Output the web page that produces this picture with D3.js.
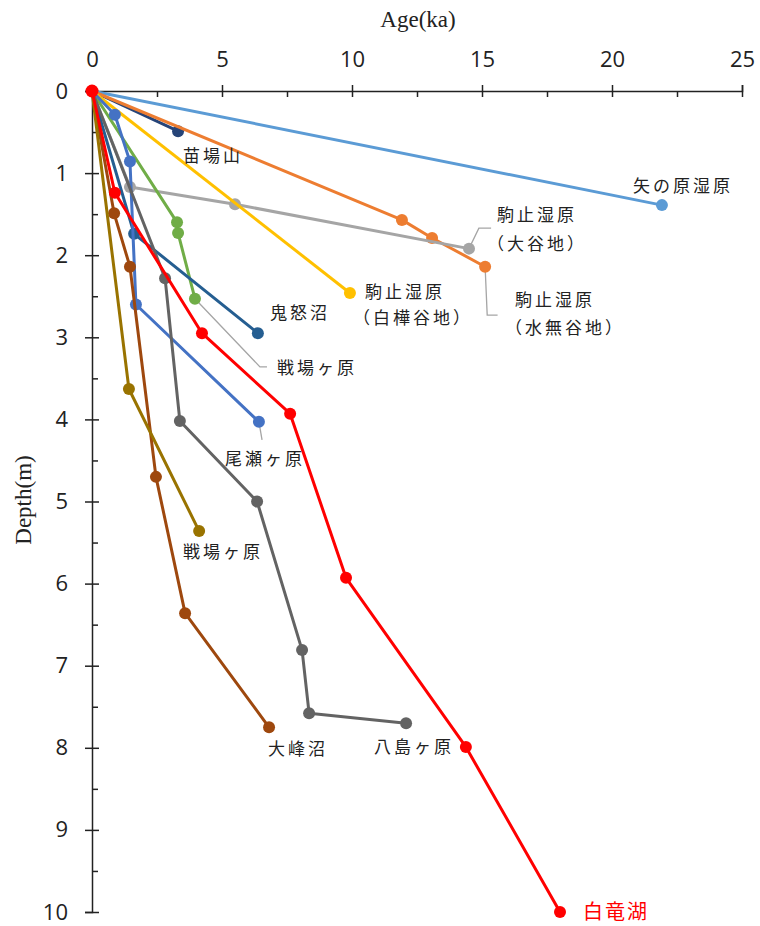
<!DOCTYPE html>
<html>
<head>
<meta charset="utf-8">
<script src="https://cdn.jsdelivr.net/npm/d3@7"></script>
<style>
body{margin:0;background:#fff;}
</style>
</head>
<body>
<script>
var w=760;
var h=926;

// age (ka) / depth (m) pairs per site
var yanohara   = [[0,0],[21.92,1.39]];
var naebasan   = [[0,0],[3.31,0.49]];
var mizunashi  = [[0,0],[11.92,1.57],[13.08,1.79],[15.12,2.14]];
var ooyachi    = [[0,0],[1.46,1.17],[5.5,1.38],[14.5,1.92]];
var shirakaba  = [[0,0],[9.92,2.46]];
var senjo1     = [[0,0],[3.27,1.6],[3.31,1.73],[3.96,2.53]];
var kinunuma   = [[0,0],[1.62,1.74],[6.38,2.95]];
var oze        = [[0,0],[0.88,0.29],[1.46,0.86],[1.69,2.6],[6.42,4.03]];
var yashima    = [[0,0],[2.81,2.28],[3.38,4.02],[6.35,5.0],[8.08,6.81],[8.35,7.58],[12.08,7.7]];
var oominenuma = [[0,0],[0.85,1.49],[1.46,2.14],[2.46,4.7],[3.58,6.36],[6.81,7.75]];
var senjo2     = [[0,0],[1.42,3.63],[4.12,5.36]];
var hakuryu    = [[0,0],[0.88,1.24],[4.23,2.95],[7.62,3.93],[9.77,5.93],[14.38,7.99],[18.0,10.0]];

var xTicks=[0,5,10,15,20,25];
var yTicks=[0,1,2,3,4,5,6,7,8,9,10];

var series=[yanohara,naebasan,mizunashi,ooyachi,shirakaba,senjo1,kinunuma,oze,yashima,oominenuma,senjo2,hakuryu];
var colors=["#5B9BD5","#264478","#ED7D31","#A5A5A5","#FFC000","#70AD47","#255E91","#4472C4","#636363","#9E480E","#997300","#FF0000"];

var svg=d3.select("body").append("svg")
	.attr("width",w)
	.attr("height",h)
	.style("font-family","'Open Sans', sans-serif");

var x=d3.scaleLinear().domain([0,25]).range([92,742]);
var y=d3.scaleLinear().domain([0,10]).range([91,912]);

// top axis
var xAxis=svg.append("g").attr("transform","translate(0,"+y(0)+")")
	.call(d3.axisTop(x).tickValues(xTicks).tickSize(6).tickPadding(18));
xAxis.selectAll(".tick line").attr("y2",-6).attr("y1",6);
svg.append("g").attr("transform","translate(0,"+y(0)+")")
	.call(d3.axisTop(x).tickValues([2.5,7.5,12.5,17.5,22.5]).tickSize(-6).tickFormat(""))
	.select(".domain").remove();

// left axis
var yAxis=svg.append("g").attr("transform","translate("+x(0)+",0)")
	.call(d3.axisLeft(y).tickValues(yTicks).tickSize(7).tickPadding(17));
yAxis.selectAll(".tick line").attr("x1",7);
svg.append("g").attr("transform","translate("+x(0)+",0)")
	.call(d3.axisLeft(y).tickValues(d3.range(0.5,10,1)).tickSize(-6).tickFormat(""))
	.select(".domain").remove();

svg.selectAll(".domain").attr("stroke","#222").attr("stroke-width",1.5);
svg.selectAll(".tick line").attr("stroke","#222").attr("stroke-width",1.5);
svg.selectAll(".tick text").attr("font-size",22).attr("fill","#222")
	.style("font-family","'Open Sans', sans-serif");

svg.append("text").attr("x",418).attr("y",27).attr("text-anchor","middle")
	.style("font-family","'Liberation Serif', serif").attr("font-size",23).attr("fill","#222")
	.text("Age(ka)");
svg.append("text").attr("transform","translate(31,500) rotate(-90)").attr("text-anchor","middle")
	.style("font-family","'Liberation Serif', serif").attr("font-size",23).attr("fill","#222")
	.text("Depth(m)");

// leader lines
var leaders=[
	[[14.5,1.92],[14.88,1.67],[15.35,1.67]],
	[[15.12,2.14],[15.2,2.73],[15.6,2.73]],
	[[3.96,2.53],[6.46,3.36],[6.73,3.36]],
	[[6.42,4.03],[6.54,4.25]]
];
var line=d3.line().x(function(d){return x(d[0]);}).y(function(d){return y(d[1]);});
svg.append("g").selectAll("path").data(leaders).enter().append("path")
	.attr("d",line).attr("fill","none").attr("stroke","#A5A5A5").attr("stroke-width",1.3);

// series
var g=svg.append("g");
series.forEach(function(s,i){
	g.append("path").attr("d",line(s)).attr("fill","none")
		.attr("stroke",colors[i]).attr("stroke-width",3).attr("stroke-linejoin","round");
	g.selectAll(null).data(s.slice(1)).enter().append("circle")
		.attr("cx",function(d){return x(d[0]);})
		.attr("cy",function(d){return y(d[1]);})
		.attr("r",6).attr("fill",colors[i]);
});
g.append("circle").attr("cx",x(0)).attr("cy",y(0)).attr("r",6.5).attr("fill","#FF0000");

// labels
var labels=[
	["苗場山",183,162],
	["矢の原湿原",633,192],
	["駒止湿原",497,221],
	["（大谷地）",487,250],
	["駒止湿原",365,298],
	["（白樺谷地）",353,324],
	["駒止湿原",515,306],
	["（水無谷地）",505,334],
	["鬼怒沼",270,319],
	["戦場ヶ原",277,374],
	["尾瀬ヶ原",225,465],
	["戦場ヶ原",183,558],
	["大峰沼",268,755],
	["八島ヶ原",374,753]
];
svg.append("g").selectAll("text").data(labels).enter().append("text")
	.attr("x",function(d){return d[1];})
	.attr("y",function(d){return d[2];})
	.style("font-family","'Noto Sans CJK JP', sans-serif")
	.attr("font-size",17).attr("letter-spacing",3).attr("fill","#222")
	.text(function(d){return d[0];});
svg.append("text").attr("x",583).attr("y",919)
	.style("font-family","'Noto Sans CJK JP', sans-serif")
	.attr("font-size",20).attr("letter-spacing",2).attr("fill","#FF0000").text("白竜湖");
</script>
</body>
</html>
